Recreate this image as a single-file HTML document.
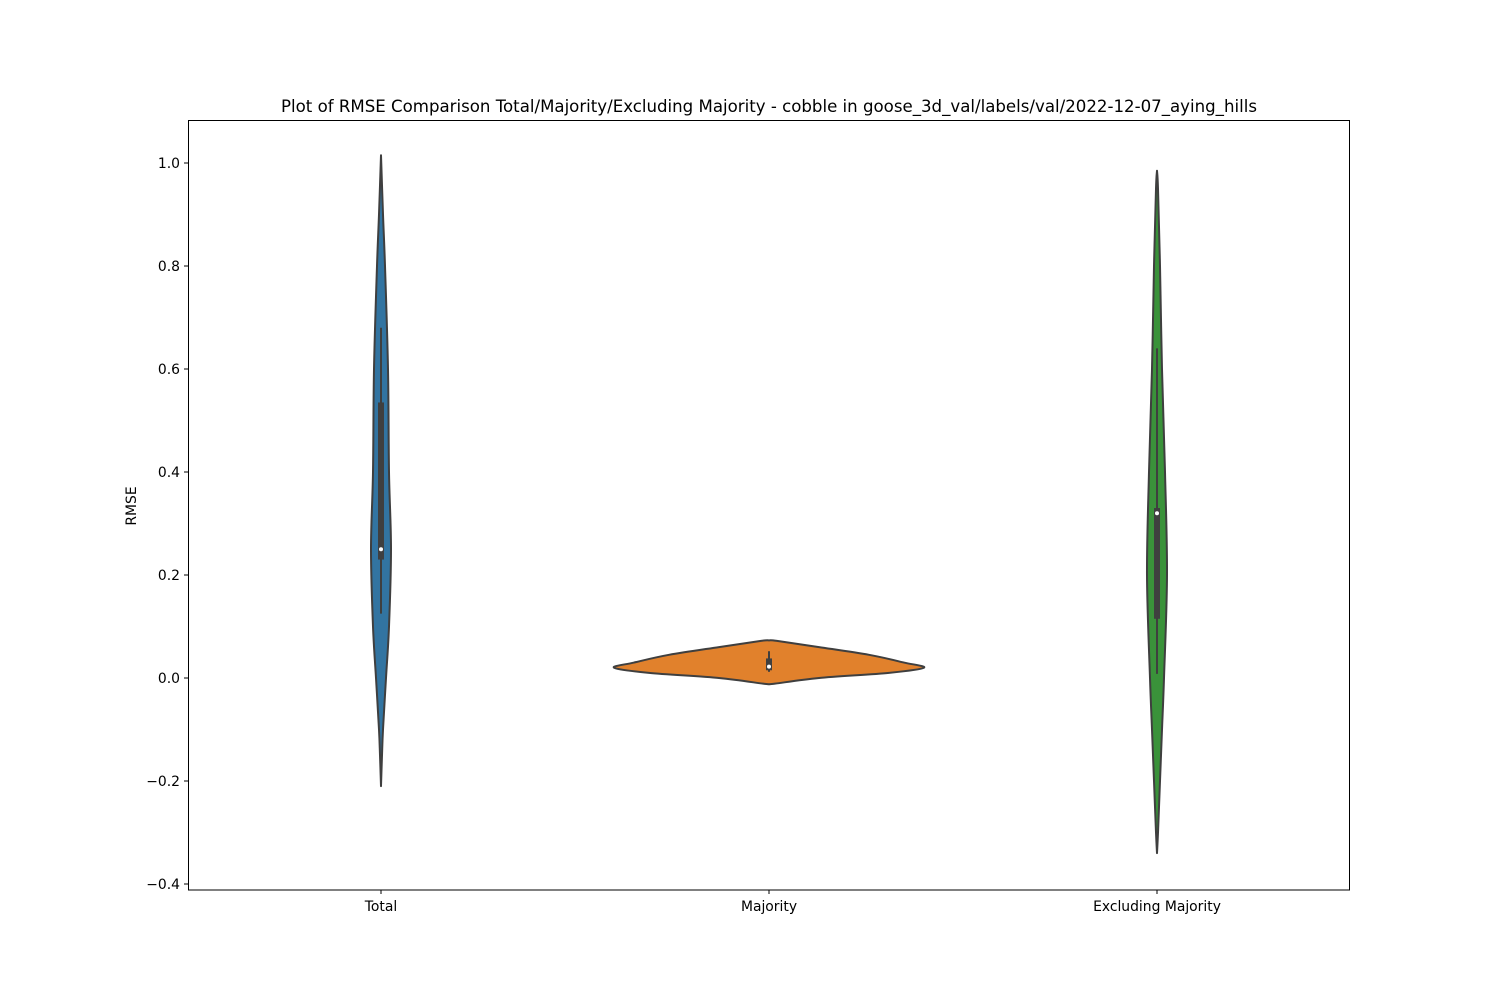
<!DOCTYPE html>
<html><head><meta charset="utf-8"><style>
body{margin:0;background:#fff;font-family:"DejaVu Sans",sans-serif}
svg text{font-family:"DejaVu Sans",sans-serif;fill:#000}
</style></head><body>
<svg id="chart" width="1500" height="1000" xmlns="http://www.w3.org/2000/svg">
<rect width="1500" height="1000" fill="#fff"/>
<text x="769" y="112" font-size="16.7" text-anchor="middle" textLength="976" lengthAdjust="spacingAndGlyphs">Plot of RMSE Comparison Total/Majority/Excluding Majority - cobble in goose_3d_val/labels/val/2022-12-07_aying_hills</text>
<text transform="translate(136,506) rotate(-90)" font-size="13.9" text-anchor="middle">RMSE</text>
<g id="plot"></g>
<rect x="188.5" y="120.5" width="1161" height="769.5" fill="none" stroke="#000" stroke-width="1"/>
</svg>
<script>
const categories=["Total","Majority","Excluding Majority"];
const yTicks=[-0.4,-0.2,0.0,0.2,0.4,0.6,0.8,1.0];
const totalY=[-0.21,-0.15,-0.1,0,0.1,0.25,0.4,0.6,0.8,0.9,1.015];
const totalD=[0,1,2,5,8,10,8,7,4,2,0];
const majY=[-0.012,-0.011,0,0.01,0.02,0.03,0.045,0.06,0.072,0.073];
const majD=[0,6,50,120,155,135,100,50,8,0];
const exY=[-0.34,-0.3,-0.2,-0.1,0,0.2,0.4,0.6,0.8,0.95,0.985];
const exD=[0,1,3,5,7,10,8,5,3,1,0];
const stats=[
 {q1:0.23,med:0.25,q3:0.535,lo:0.125,hi:0.68},
 {q1:0.015,med:0.022,q3:0.038,lo:0.012,hi:0.052},
 {q1:0.115,med:0.32,q3:0.33,lo:0.008,hi:0.64}
];
const colors=["#3274a1","#e1812c","#3a923a"];
const NS="http://www.w3.org/2000/svg";
const yScale=v=>678-(v*515);
const xScale=i=>381+i*388;
const g=document.getElementById('plot');
const svg=document.getElementById('chart');
function mk(t,a,p){const e=document.createElementNS(NS,t);for(const k in a)e.setAttribute(k,a[k]);(p||g).appendChild(e);return e;}
function smooth(pts){
 let d='M'+pts[0][0]+','+pts[0][1];
 for(let i=0;i<pts.length-1;i++){
  const p0=pts[Math.max(i-1,0)],p1=pts[i],p2=pts[i+1],p3=pts[Math.min(i+2,pts.length-1)];
  const c1=[p1[0]+(p2[0]-p0[0])/6,p1[1]+(p2[1]-p0[1])/6];
  const c2=[p2[0]-(p3[0]-p1[0])/6,p2[1]-(p3[1]-p1[1])/6];
  d+=' C'+c1.join(',')+' '+c2.join(',')+' '+p2.join(',');
 }
 return d;
}
yTicks.forEach(v=>{
 const y=yScale(v);
 const l=mk('line',{x1:184,x2:188,y1:y,y2:y,stroke:'#000'},svg);
 
 
 const t=mk('text',{x:180,y:y+5,'font-size':13.9,'text-anchor':'end'},svg);
 t.textContent=(v<0?'\u2212':'')+Math.abs(v).toFixed(1);
 
 
});
categories.forEach((c,i)=>{
 const x=xScale(i);
 const l=mk('line',{x1:x,x2:x,y1:890,y2:894,stroke:'#000'},svg);
 
 
 const t=mk('text',{x:x,y:911,'font-size':13.9,'text-anchor':'middle'},svg);
 t.textContent=c;
 
 
});
const series=[[totalY,totalD],[majY,majD],[exY,exD]];
series.forEach(([ys,ds],i)=>{
 const cx=xScale(i);
 let right=[],left=[];
 for(let k=0;k<ys.length;k++)right.push([cx+ds[k],yScale(ys[k])]);
 for(let k=ys.length-1;k>=0;k--)left.push([cx-ds[k],yScale(ys[k])]);
 const d=smooth(right)+' L'+smooth(left).slice(1)+' Z';
 const p=mk('path',{d:d,fill:colors[i],stroke:'#3f3f3f','stroke-width':2,'stroke-linejoin':'round'});
 
 
 const s=stats[i];
 const w=mk('line',{x1:cx,x2:cx,y1:yScale(s.lo),y2:yScale(s.hi),stroke:'#3f3f3f','stroke-width':2});
 
 
 const b=mk('rect',{x:cx-3,y:yScale(s.q3),width:6,height:yScale(s.q1)-yScale(s.q3),fill:'#3f3f3f'});
 
 
 const m=mk('circle',{cx:cx,cy:yScale(s.med),r:2,fill:'#fff'});
 
 
});
</script>
</body></html>
